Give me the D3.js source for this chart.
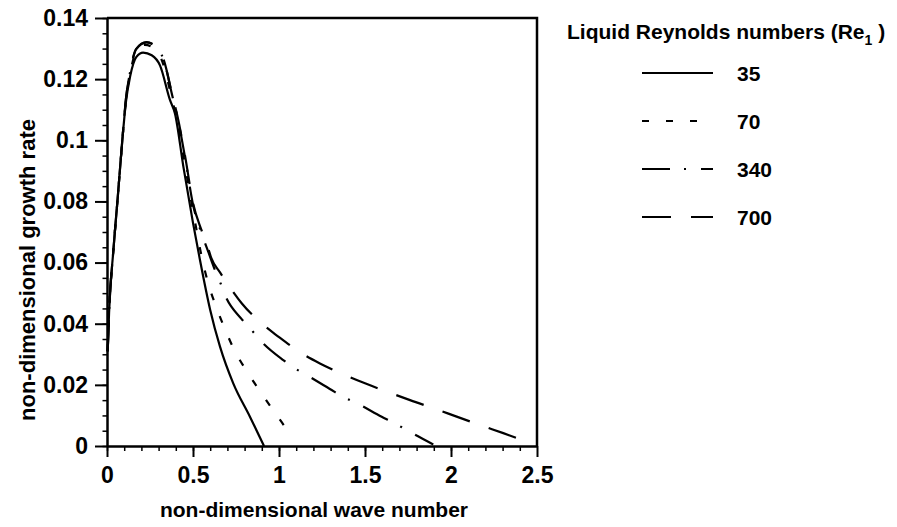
<!DOCTYPE html>
<html>
<head>
<meta charset="utf-8">
<script src="https://cdn.jsdelivr.net/npm/d3@7/dist/d3.min.js"></script>
<style>
  body { margin: 0; background: #fff; }
  svg text { font-family: "Liberation Sans", Arial, sans-serif; font-weight: bold; fill: #000; }
  .axis path, .axis line { stroke: #000; }
</style>
</head>
<body>
<div id="chart"></div>
<script>
// values
var reynolds = ['35', '70', '340', '700'];

var k35 = [0.004, 0.012, 0.037, 0.062, 0.089, 0.11, 0.135, 0.17, 0.21, 0.26, 0.308, 0.366, 0.395, 0.444, 0.5, 0.54, 0.6, 0.657, 0.734, 0.831, 0.913];
var g35 = [0.031, 0.0435, 0.064, 0.081, 0.1, 0.1125, 0.121, 0.1272, 0.1287, 0.1278, 0.1245, 0.1132, 0.1088, 0.0914, 0.073, 0.061, 0.0445, 0.0325, 0.0205, 0.0096, 0];

var k70 = [0.004, 0.012, 0.037, 0.062, 0.089, 0.11, 0.135, 0.17, 0.22, 0.27, 0.32, 0.376, 0.405, 0.45, 0.49, 0.521, 0.55, 0.587, 0.634, 0.684, 0.74, 0.812, 0.885, 0.967, 1.05, 1.065];
var g70 = [0.031, 0.0435, 0.064, 0.081, 0.1, 0.113, 0.122, 0.1291, 0.1312, 0.1302, 0.126, 0.114, 0.107, 0.093, 0.08, 0.0705, 0.062, 0.0535, 0.0456, 0.0385, 0.0314, 0.0245, 0.0183, 0.0116, 0.0049, 0.0035];

var k340 = [0.004, 0.012, 0.037, 0.062, 0.089, 0.11, 0.135, 0.17, 0.23, 0.28, 0.33, 0.38, 0.41, 0.455, 0.5, 0.55, 0.589, 0.628, 0.657, 0.686, 0.783, 0.841, 0.899, 1.025, 1.093, 1.161, 1.306, 1.373, 1.452, 1.597, 1.674, 1.742, 1.897];
var g340 = [0.031, 0.0435, 0.064, 0.081, 0.1, 0.1135, 0.1225, 0.1298, 0.132, 0.1308, 0.1262, 0.1145, 0.1075, 0.094, 0.079, 0.0695, 0.0635, 0.0575, 0.0537, 0.0494, 0.0415, 0.0379, 0.0341, 0.0281, 0.0254, 0.0232, 0.0183, 0.0161, 0.014, 0.0096, 0.0074, 0.0052, 0.0005];

var k700 = [0.004, 0.012, 0.037, 0.062, 0.089, 0.11, 0.135, 0.17, 0.23, 0.28, 0.33, 0.38, 0.41, 0.455, 0.5, 0.55, 0.589, 0.606, 0.657, 0.705, 0.783, 0.899, 0.996, 1.132, 1.238, 1.384, 1.5, 1.655, 1.762, 1.926, 2.033, 2.198, 2.304, 2.42];
var g700 = [0.031, 0.0435, 0.064, 0.081, 0.1, 0.1135, 0.1225, 0.1299, 0.1321, 0.1309, 0.1263, 0.1147, 0.1078, 0.0945, 0.0795, 0.0705, 0.0645, 0.0615, 0.0568, 0.0527, 0.0467, 0.0401, 0.0358, 0.0303, 0.027, 0.0232, 0.0205, 0.0172, 0.015, 0.0118, 0.0096, 0.0063, 0.0042, 0.0018];

var xTicks = [0, 0.5, 1, 1.5, 2, 2.5];
var xTickLabels = ['0', '0.5', '1', '1.5', '2', '2.5'];
var yTicks = [0, 0.02, 0.04, 0.06, 0.08, 0.1, 0.12, 0.14];
var yTickLabels = ['0', '0.02', '0.04', '0.06', '0.08', '0.1', '0.12', '0.14'];

var legendTitle = 'Liquid Reynolds numbers (Re';

function Growthchart() {
  var W = 897, H = 527;
  var m = {t: 18, l: 107},
      w = 430,
      h = 428;

  var series = [
    {name: reynolds[0], k: k35,  g: g35,  dash: null},
    {name: reynolds[1], k: k70,  g: g70,  dash: '7,17'},
    {name: reynolds[2], k: k340, g: g340, dash: '28,14,2,15'},
    {name: reynolds[3], k: k700, g: g700, dash: '29,20'}
  ];

  var x = d3.scaleLinear().domain([0, 2.5]).range([0, w]);
  var y = d3.scaleLinear().domain([0, 0.14]).range([h, 0]);

  var svg = d3.select('#chart').append('svg')
      .attr('width', W)
      .attr('height', H);

  var plot = svg.append('g')
      .attr('transform', 'translate(' + m.l + ',' + m.t + ')');

  // minor ticks first
  plot.append('g').attr('class', 'axis')
      .attr('transform', 'translate(0,' + h + ')')
      .call(d3.axisBottom(x).tickValues(d3.range(0, 25).map(function(i){ return i / 10; }))
        .tickSize(5).tickSizeOuter(0).tickFormat(''))
      .call(function(g){ g.select('.domain').remove(); g.selectAll('line').attr('stroke-width', 1.5); });

  plot.append('g').attr('class', 'axis')
      .call(d3.axisLeft(y).tickValues(d3.range(0, 29).map(function(i){ return i * 0.005; }))
        .tickSize(4.5).tickSizeOuter(0).tickFormat(''))
      .call(function(g){ g.select('.domain').remove(); g.selectAll('line').attr('stroke-width', 1.5); });

  // major ticks with labels
  var xAxis = plot.append('g').attr('class', 'axis')
      .attr('transform', 'translate(0,' + h + ')')
      .call(d3.axisBottom(x).tickValues(xTicks)
        .tickFormat(function(d, i){ return xTickLabels[i]; })
        .tickSize(11).tickSizeOuter(0).tickPadding(10));
  xAxis.selectAll('text').style('font-size', '23px');
  xAxis.selectAll('line').attr('stroke-width', 2);
  xAxis.select('.domain').attr('stroke-width', 2.5);

  var yAxis = plot.append('g').attr('class', 'axis')
      .call(d3.axisLeft(y).tickValues(yTicks)
        .tickFormat(function(d, i){ return yTickLabels[i]; })
        .tickSize(12).tickSizeOuter(0).tickPadding(7));
  yAxis.selectAll('text').style('font-size', '23px');
  yAxis.selectAll('line').attr('stroke-width', 2);
  yAxis.select('.domain').attr('stroke-width', 2.5);

  // frame top and right
  plot.append('path')
      .attr('d', 'M' + x(0) + ',' + y(0.14) + 'H' + x(2.5) + 'V' + y(0))
      .attr('fill', 'none')
      .attr('stroke', '#000')
      .attr('stroke-width', 2.5);

  //curves
  var line = d3.line()
      .x(function(d){ return x(d[0]); })
      .y(function(d){ return y(d[1]); })
      .curve(d3.curveMonotoneX);

  plot.selectAll('.curve')
      .data(series)
      .enter().append('path')
      .attr('class', 'curve')
      .attr('d', function(s){ return line(s.k.map(function(k, i){ return [k, s.g[i]]; })); })
      .attr('fill', 'none')
      .attr('stroke', '#000')
      .attr('stroke-width', 2.2)
      .attr('stroke-dasharray', function(s){ return s.dash; });

  // axis titles
  svg.append('text')
      .attr('x', 314)
      .attr('y', 517)
      .attr('text-anchor', 'middle')
      .style('font-size', '21px')
      .text('non-dimensional wave number');

  svg.append('text')
      .attr('transform', 'translate(35,270) rotate(-90)')
      .attr('text-anchor', 'middle')
      .style('font-size', '22px')
      .text('non-dimensional growth rate');

  // legend
  var title = svg.append('text')
      .attr('x', 567)
      .attr('y', 39)
      .style('font-size', '21px');
  title.append('tspan').text(legendTitle);
  title.append('tspan').attr('dy', 6).style('font-size', '14px').text('1');
  title.append('tspan').attr('dy', -6).text(' )');

  var rowY = d3.scalePoint().domain(reynolds).range([73, 217]);

  var leg = svg.selectAll('.legend')
      .data(series)
      .enter().append('g')
      .attr('class', 'legend')
      .attr('transform', function(s){ return 'translate(0,' + rowY(s.name) + ')'; });

  leg.append('line')
      .attr('x1', 642).attr('x2', 713)
      .attr('stroke', '#000')
      .attr('stroke-width', 2)
      .attr('stroke-dasharray', function(s){ return s.dash; });

  leg.append('text')
      .attr('x', 737)
      .attr('dy', '0.36em')
      .style('font-size', '21px')
      .text(function(s){ return s.name; });
}

Growthchart();
</script>
</body>
</html>
